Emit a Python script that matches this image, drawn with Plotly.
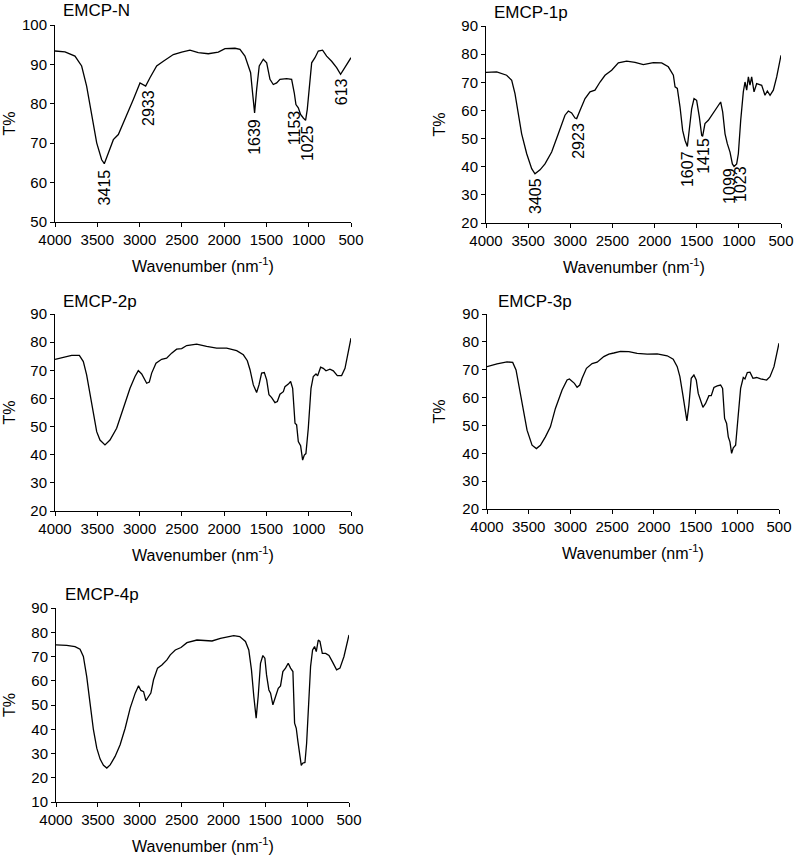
import plotly.graph_objs as go

# ---- spectra (wavenumber, T%) ----
wn_n = [4000, 3882, 3764, 3685, 3626, 3567, 3507, 3448, 3417, 3369, 3310, 3251, 3172, 3074, 2995, 2956, 2928,
        2877, 2798, 2719, 2601, 2502, 2404, 2306, 2187, 2069, 1990, 1872, 1813, 1754, 1714, 1687, 1664, 1640,
        1616, 1585, 1537, 1497, 1458, 1419, 1379, 1340, 1261, 1202, 1171, 1151, 1123, 1096, 1064, 1037, 1017,
        993, 965, 926, 887, 836, 788, 729, 670, 623, 571, 500]
t_n = [93.4, 93.2, 92.1, 89.6, 84.5, 76.9, 70.1, 65.8, 64.8, 67.5, 70.9, 72.2, 76.0, 81.1, 85.3, 84.9, 84.5,
       86.6, 89.6, 90.8, 92.5, 93.1, 93.6, 93.0, 92.7, 93.1, 94.0, 94.1, 93.8, 92.1, 89.2, 87.9, 82.8, 77.7,
       83.6, 89.6, 91.3, 90.4, 86.2, 84.9, 85.3, 86.2, 86.4, 86.2, 82.8, 79.8, 79.0, 77.3, 76.4, 75.8, 78.6,
       84.5, 90.4, 91.7, 93.4, 93.6, 92.1, 90.8, 89.2, 87.5, 89.2, 91.7]

wn_1p = [4000, 3873, 3755, 3695, 3656, 3616, 3577, 3517, 3458, 3419, 3359, 3300, 3221, 3142, 3063, 3023, 2984,
         2944, 2924, 2885, 2825, 2766, 2707, 2647, 2588, 2509, 2430, 2331, 2232, 2133, 2015, 1916, 1837, 1777,
         1757, 1730, 1698, 1667, 1639, 1611, 1588, 1560, 1532, 1501, 1469, 1441, 1430, 1402, 1362, 1323, 1283,
         1244, 1216, 1192, 1164, 1137, 1105, 1077, 1057, 1026, 1006, 978, 947, 927, 907, 887, 868, 848, 820,
         789, 729, 690, 662, 630, 591, 551, 500]
t_1p = [73.5, 73.7, 72.5, 70.7, 66.0, 58.9, 51.7, 44.6, 39.3, 37.5, 38.9, 41.0, 45.2, 51.7, 58.3, 59.8, 59.1,
        57.3, 57.1, 60.0, 64.2, 66.6, 67.2, 70.1, 72.5, 74.3, 76.9, 77.5, 77.1, 76.3, 77.0, 76.9, 75.5, 72.5,
        68.4, 67.8, 61.2, 52.9, 49.4, 47.2, 52.9, 60.6, 64.2, 63.6, 57.7, 51.1, 50.8, 55.3, 56.5, 58.3, 60.0,
        61.8, 63.0, 59.5, 51.7, 48.2, 45.2, 41.0, 40.1, 41.0, 44.6, 56.5, 66.6, 70.1, 67.2, 71.9, 69.0, 71.9, 66.6,
        69.5, 68.9, 65.4, 66.9, 65.4, 67.2, 71.9, 79.6]

wn_2p = [4000, 3901, 3803, 3712, 3665, 3626, 3586, 3547, 3507, 3468, 3409, 3350, 3271, 3192, 3113, 3054, 3015,
         2975, 2944, 2916, 2885, 2857, 2806, 2739, 2680, 2621, 2562, 2502, 2443, 2325, 2207, 2089, 1970, 1852,
         1773, 1726, 1694, 1655, 1616, 1588, 1557, 1525, 1497, 1470, 1438, 1399, 1371, 1340, 1300, 1281, 1241,
         1214, 1190, 1162, 1143, 1123, 1096, 1072, 1052, 1033, 1005, 973, 946, 914, 895, 859, 828, 796, 749,
         709, 662, 611, 571, 500]
t_2p = [73.9, 74.7, 75.3, 75.3, 73.1, 68.4, 61.3, 54.1, 48.2, 45.2, 43.5, 45.2, 49.4, 56.5, 63.6, 67.8, 69.9,
        68.7, 67.2, 65.4, 65.8, 69.0, 72.5, 73.9, 74.3, 76.1, 77.5, 77.7, 78.8, 79.3, 78.5, 77.9, 77.9, 77.0,
        75.5, 73.4, 70.2, 64.8, 62.1, 64.8, 69.0, 69.2, 66.6, 61.3, 60.3, 58.5, 58.9, 61.5, 62.4, 64.2, 65.1,
        66.0, 63.6, 51.2, 50.6, 44.7, 43.2, 38.1, 39.9, 40.4, 49.4, 63.6, 67.8, 68.7, 68.0, 71.1, 70.7, 69.8, 70.4,
        69.8, 68.1, 68.1, 70.7, 81.4]

wn_3p = [4000, 3880, 3760, 3692, 3652, 3612, 3572, 3520, 3460, 3408, 3360, 3300, 3240, 3180, 3100, 3040, 3012,
         2980, 2952, 2920, 2888, 2860, 2808, 2740, 2680, 2600, 2540, 2480, 2400, 2300, 2200, 2080, 1960, 1840,
         1768, 1720, 1688, 1652, 1620, 1604, 1580, 1552, 1520, 1492, 1468, 1440, 1412, 1380, 1340, 1312, 1280,
         1240, 1200, 1176, 1152, 1128, 1108, 1088, 1068, 1048, 1020, 992, 960, 928, 908, 880, 848, 812, 768,
         720, 648, 608, 560, 500]
t_3p = [71.1, 72.1, 72.8, 72.6, 69.9, 63.3, 56.1, 48.3, 42.9, 41.7, 42.9, 45.9, 49.5, 56.1, 62.7, 66.3, 66.7,
        66.0, 65.1, 63.7, 64.5, 66.9, 70.5, 72.2, 72.7, 74.7, 75.6, 76.0, 76.6, 76.5, 75.9, 75.6, 75.7, 75.0,
        73.8, 71.1, 67.5, 60.9, 53.7, 51.6, 57.3, 66.9, 68.1, 66.3, 61.5, 59.1, 56.5, 57.9, 60.7, 60.7, 63.6,
        64.2, 64.5, 63.3, 52.5, 50.7, 45.9, 44.1, 40.0, 42.0, 42.9, 52.5, 63.3, 67.2, 66.7, 69.0, 69.1, 66.9, 67.2,
        66.7, 66.3, 67.5, 71.1, 79.5]

wn_4p = [4000, 3872, 3773, 3713, 3673, 3633, 3593, 3553, 3513, 3473, 3433, 3393, 3353, 3294, 3234, 3174, 3114,
         3054, 3014, 2986, 2954, 2926, 2894, 2867, 2835, 2787, 2735, 2675, 2635, 2575, 2507, 2436, 2316, 2196,
         2136, 2036, 1937, 1877, 1805, 1737, 1697, 1665, 1637, 1609, 1585, 1557, 1529, 1505, 1485, 1457, 1437,
         1409, 1377, 1345, 1318, 1290, 1258, 1226, 1198, 1170, 1150, 1130, 1110, 1086, 1070, 1054, 1026, 1006,
         983, 959, 935, 911, 891, 867, 847, 819, 779, 739, 699, 648, 608, 560, 500]
t_4p = [74.8, 74.6, 74.1, 73.0, 70.0, 61.7, 50.7, 39.8, 32.2, 27.7, 25.1, 24.0, 25.3, 28.8, 33.6, 40.4, 48.7,
        54.9, 57.9, 56.0, 55.5, 51.8, 53.5, 54.9, 60.4, 65.2, 66.5, 68.6, 70.7, 72.7, 73.7, 75.7, 76.8, 76.6,
        76.4, 77.5, 78.2, 78.6, 78.2, 76.2, 72.7, 64.5, 53.5, 44.6, 53.5, 67.2, 70.4, 69.3, 62.4, 56.2, 54.9,
        50.1, 53.5, 56.9, 57.9, 63.8, 65.2, 67.2, 65.2, 63.8, 42.5, 40.4, 34.9, 30.1, 25.1, 26.0, 26.3, 34.3,
        50.7, 65.9, 72.7, 74.1, 72.0, 76.8, 76.2, 71.3, 71.3, 70.4, 67.9, 64.5, 65.2, 70.0, 78.9]

# peak labels (text, wavenumber position, T% position of label centre)
peaks_n = [("3415", 3415, 58.9), ("2933", 2897, 79.0), ("1639", 1636, 71.6),
           ("1153", 1170, 73.9), ("1025", 1005, 70.1), ("613", 611, 83.1)]
peaks_1p = [("3405", 3407, 29.6), ("2923", 2897, 49.2), ("1607", 1611, 39.3),
            ("1415", 1413, 43.9), ("1099", 1113, 33.3), ("1023", 974, 33.9)]

W, H = 794, 855
FONT = "Liberation Sans, Arial, sans-serif"

# panel: name, x, y, pixel box (left, right, top, bottom), y range, peaks, title pos, T% x pos
panels = [
    ("EMCP-N", wn_n, t_n, (55, 351, 25, 222), (50, 100), peaks_n, (61, 11), 9),
    ("EMCP-1p", wn_1p, t_1p, (486, 781, 26, 223), (20, 90), peaks_1p, (492, 12), 439),
    ("EMCP-2p", wn_2p, t_2p, (55, 351, 314, 511), (20, 90), [], (61, 301), 9),
    ("EMCP-3p", wn_3p, t_3p, (487, 779, 314, 509), (20, 90), [], (496, 301), 439),
    ("EMCP-4p", wn_4p, t_4p, (56, 349, 608, 802), (10, 90), [], (63, 594), 9),
]


def px(x):
    return x / W


def py(y):
    return 1 - y / H


fig = go.Figure()
annotations = []
layout = {}

for i, (name, xs, ys, box, yr, peaks, tpos, tx) in enumerate(panels):
    n = "" if i == 0 else str(i + 1)
    l, r, t, b = box
    fig.add_trace(go.Scatter(x=xs, y=ys, mode="lines", line=dict(color="black", width=1.3),
                             xaxis="x" + n, yaxis="y" + n, showlegend=False))
    layout["xaxis" + n] = dict(domain=[px(l), px(r)], anchor="y" + n, range=[4000, 500],
                               tickvals=[4000, 3500, 3000, 2500, 2000, 1500, 1000, 500],
                               showline=True, linecolor="black", linewidth=1, ticks="outside",
                               ticklen=4, tickcolor="black", showgrid=False, zeroline=False,
                               automargin=False, tickfont=dict(size=15, color="black"))
    layout["yaxis" + n] = dict(domain=[py(b), py(t)], anchor="x" + n, range=list(yr), dtick=10,
                               showline=True, linecolor="black", linewidth=1, ticks="outside",
                               ticklen=4, tickcolor="black", showgrid=False, zeroline=False,
                               automargin=False, tickfont=dict(size=15, color="black"))
    # panel title
    annotations.append(dict(text=name, x=px(tpos[0]), y=py(tpos[1]), xref="paper", yref="paper",
                            xanchor="left", yanchor="middle", showarrow=False,
                            font=dict(size=17, color="black")))
    # axis titles
    annotations.append(dict(text="Wavenumber (nm<sup>-1</sup>)", x=px((l + r) / 2), y=py(b + 43),
                            xref="paper", yref="paper", xanchor="center", yanchor="middle",
                            showarrow=False, font=dict(size=16, color="black")))
    annotations.append(dict(text="T%", x=px(tx), y=py((t + b) / 2), xref="paper", yref="paper",
                            xanchor="center", yanchor="middle", textangle=-90, showarrow=False,
                            font=dict(size=16, color="black")))
    for txt, wx, wy in peaks:
        annotations.append(dict(text=txt, x=wx, y=wy, xref="x" + n, yref="y" + n,
                                xanchor="center", yanchor="middle", textangle=-90,
                                showarrow=False, font=dict(size=16, color="black")))

fig.update_layout(width=W, height=H, margin=dict(l=0, r=0, t=0, b=0),
                  paper_bgcolor="white", plot_bgcolor="white",
                  font=dict(family=FONT, color="black"), annotations=annotations, **layout)

# drop the browser's default body margin so the figure sits at the page corner
fig.write_html("out.html", config={"displayModeBar": False},
               post_script="document.body.style.margin='0';document.body.style.overflow='hidden';")
